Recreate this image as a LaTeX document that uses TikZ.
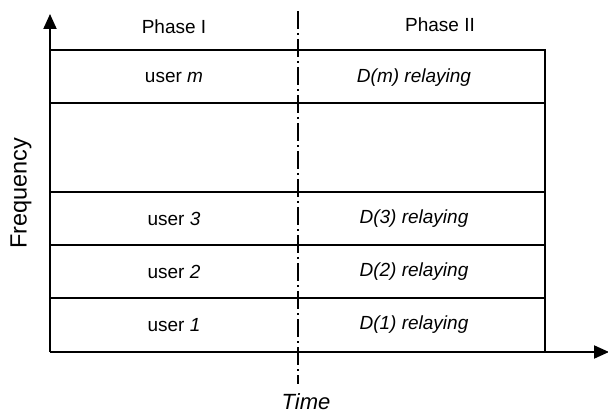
\documentclass[tikz,border=0pt]{standalone}
\usepackage{fontspec}
\setmainfont{Liberation Sans}
\usetikzlibrary{arrows.meta}
\begin{document}
\begin{tikzpicture}[x=1pt,y=-1pt,
  lbl/.style={font=\fontsize{19}{22}\selectfont, inner sep=0pt, anchor=center},
  biglbl/.style={font=\fontsize{22}{26}\selectfont, inner sep=0pt, anchor=center},
  grid/.style={line width=1.3pt},
  axis/.style={line width=2pt, -{Triangle[length=15pt,width=13pt]}},
  divider/.style={line width=2pt, dash pattern=on 18pt off 4pt on 2pt off 4pt}]
\useasboundingbox (0,0) rectangle (608,414);
% frame and rows
\draw[grid] (50,50) -- (545,50) -- (545,352);
\draw[grid] (50,103) -- (545,103);
\draw[grid] (50,192) -- (545,192);
\draw[grid] (50,245) -- (545,245);
\draw[grid] (50,298) -- (545,298);
% axes
\coordinate (O) at (50,352);
\coordinate (ytip) at (50,14);
\coordinate (xtip) at (609,352);
\draw[axis] (O) -- (ytip);
\draw[axis] (O) -- (xtip);
% divider
\coordinate (dtop) at (298,11);
\coordinate (dbot) at (298,384);
\draw[divider] (dtop) -- (dbot);
% labels
\node[lbl] (p1) at (174,27) {Phase I};
\node[lbl] (p2) at (440,25) {Phase II};
\node[lbl] (um) at (174,77) {user \textit{m}};
\node[lbl] (u3) at (174,219) {user \textit{3}};
\node[lbl] (u2) at (174,272) {user \textit{2}};
\node[lbl] (u1) at (174,325) {user \textit{1}};
\node[lbl] (dm) at (414,78) {\textit{D(m) relaying}};
\node[lbl] (d3) at (414,219) {\textit{D(3) relaying}};
\node[lbl] (d2) at (414,272) {\textit{D(2) relaying}};
\node[lbl] (d1) at (414,325) {\textit{D(1) relaying}};
\node[biglbl, font=\fontsize{23.5}{28}\selectfont, rotate=90] (freq) at (21,193) {Frequency};
\node[biglbl] (time) at (306,401.5) {\textit{Time}};
\end{tikzpicture}
\end{document}
